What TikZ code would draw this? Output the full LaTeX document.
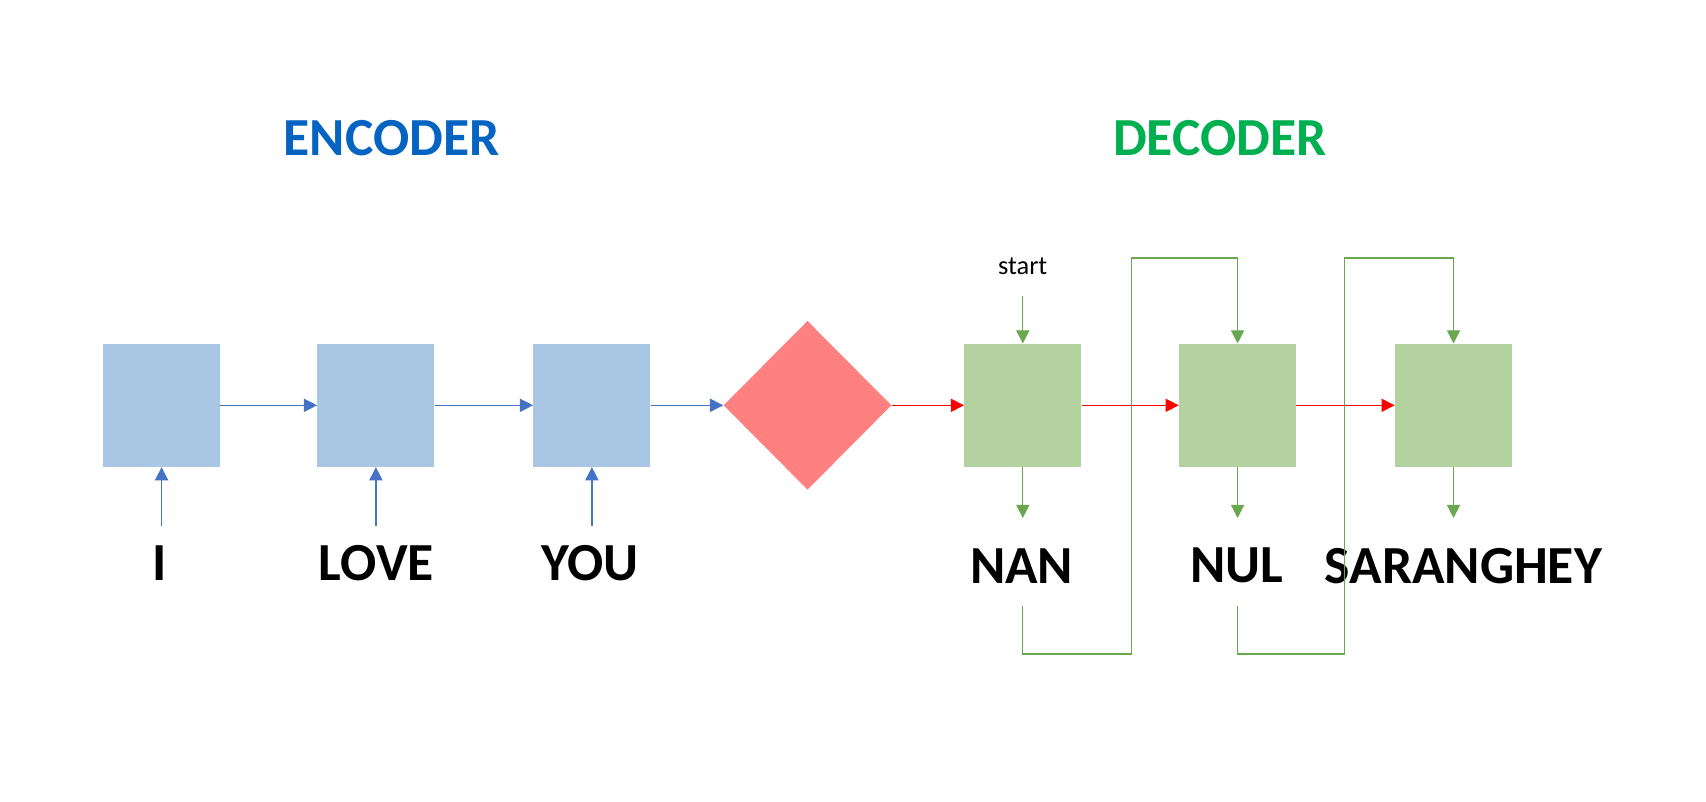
\documentclass[tikz,border=0pt]{standalone}
\usepackage{fontspec}
\setmainfont{Carlito}
\usetikzlibrary{arrows.meta,shapes.geometric}
\definecolor{encfill}{HTML}{A9C6E5}
\definecolor{encline}{HTML}{4472C4}
\definecolor{decfill}{HTML}{B4D2A0}
\definecolor{decline}{HTML}{6AA84F}
\definecolor{diafill}{HTML}{FF8080}
\definecolor{enctext}{HTML}{0563C1}
\definecolor{dectext}{HTML}{00B050}
\tikzset{
  cellbox/.style={rectangle, inner sep=0pt, minimum width=2.34cm, minimum height=2.46cm},
  encbox/.style={cellbox, fill=encfill},
  decbox/.style={cellbox, fill=decfill},
  bigword/.style={font=\fontsize{30.5}{36}\selectfont\bfseries, inner sep=0pt},
  smallword/.style={font=\fontsize{15}{18}\selectfont, inner sep=0pt},
  encarrow/.style={draw=encline, line width=0.7pt, -{Triangle[length=7.5pt,width=7.5pt]}},
  redarrow/.style={draw=red, line width=0.7pt, -{Triangle[length=7.5pt,width=7.5pt]}},
  decarrow/.style={draw=decline, line width=0.7pt, -{Triangle[length=7.5pt,width=7.5pt]}},
}
\begin{document}
\begin{tikzpicture}[x=0.02cm, y=-0.02cm]
\useasboundingbox (0,0) rectangle (1706,801);
% titles
\node[bigword, text=enctext] (enc) at (391.7,138) {ENCODER};
\node[bigword, text=dectext] (dec) at (1219.7,138) {DECODER};
% encoder boxes
\node[encbox] (e1) at (161.6,405.3) {};
\node[encbox] (e2) at (375.9,405.3) {};
\node[encbox] (e3) at (591.9,405.3) {};
% diamond
\node[diamond, fill=diafill, inner sep=0pt, minimum width=3.36cm, minimum height=3.38cm, aspect=1] (dia) at (807.5,405.3) {};
% decoder boxes
\node[decbox] (d1) at (1022.8,405.3) {};
\node[decbox] (d2) at (1237.6,405.3) {};
\node[decbox] (d3) at (1453.5,405.3) {};
% input words
\node[bigword] (wi) at (160,563) {I};
\node[bigword] (wlove) at (376.4,563) {LOVE};
\node[bigword] (wyou) at (589.7,563) {YOU};
% output words
\node[bigword] (wnan) at (1021.6,565.8) {NAN};
\node[bigword] (wnul) at (1237,565.8) {NUL};
\node[bigword] (wsar) at (1463.4,565.8) {SARANGHEY};
% start
\node[smallword] (start) at (1022.7,266) {start};
% coordinates
\coordinate (i1) at (161.6,525.5);
\coordinate (i2) at (375.9,525.5);
\coordinate (i3) at (591.9,525.5);
\coordinate (s0) at (1022.8,296);
\coordinate (o1) at (1022.8,518);
\coordinate (o2) at (1237.6,518);
\coordinate (o3) at (1453.5,518);
\coordinate (fa1) at (1022.8,606);
\coordinate (fb1) at (1022.8,654);
\coordinate (fc1) at (1131.5,654);
\coordinate (fd1) at (1131.5,258);
\coordinate (fa2) at (1237.6,606);
\coordinate (fb2) at (1237.6,654);
\coordinate (fc2) at (1344.8,654);
\coordinate (fd2) at (1344.8,258);
% encoder connectors
\draw[encarrow] (e1.east) -- (e2.west);
\draw[encarrow] (e2.east) -- (e3.west);
\draw[encarrow] (e3.east) -- (dia.west);
\draw[encarrow] (i1) -- (e1.south);
\draw[encarrow] (i2) -- (e2.south);
\draw[encarrow] (i3) -- (e3.south);
% red connectors
\draw[redarrow] (dia.east) -- (d1.west);
\draw[redarrow] (d1.east) -- (d2.west);
\draw[redarrow] (d2.east) -- (d3.west);
% decoder connectors
\draw[decarrow] (s0) -- (d1.north);
\draw[decarrow] (d1.south) -- (o1);
\draw[decarrow] (d2.south) -- (o2);
\draw[decarrow] (d3.south) -- (o3);
\draw[decarrow] (fa1) -- (fb1) -- (fc1) -- (fd1) -| (d2.north);
\draw[decarrow] (fa2) -- (fb2) -- (fc2) -- (fd2) -| (d3.north);
\end{tikzpicture}
\end{document}
